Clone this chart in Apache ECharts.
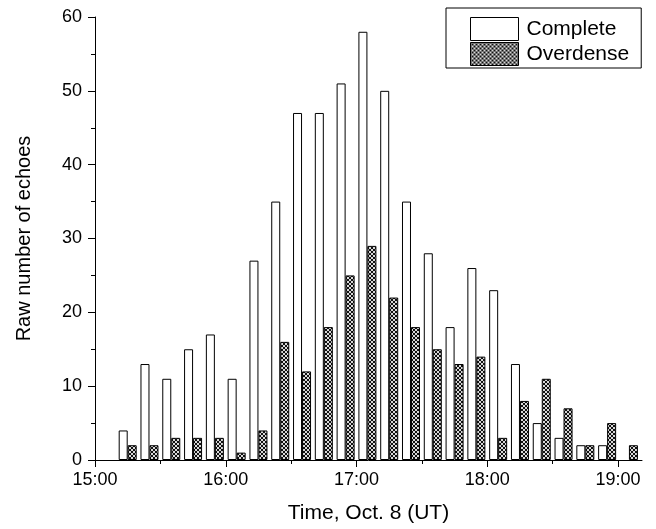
<!DOCTYPE html>
<html>
<head>
<meta charset="utf-8">
<script src="https://cdn.jsdelivr.net/npm/echarts@6/dist/echarts.min.js"></script>
<style>
  html, body { margin: 0; padding: 0; background: #fff; }
  #main { width: 656px; height: 529px; }
</style>
</head>
<body>
<div id="main"></div>
<script>
// 10-minute bins, centre time of each bin
const binTimes = ['15:15', '15:25', '15:35', '15:45', '15:55', '16:05', '16:15', '16:25',
  '16:35', '16:45', '16:55', '17:05', '17:15', '17:25', '17:35', '17:45', '17:55', '18:05',
  '18:15', '18:25', '18:35', '18:45', '18:55', '19:05'];
const completeVals = [4, 13, 11, 15, 17, 11, 27, 35, 47, 47, 51, 58, 50, 35, 28, 18, 26, 23,
  13, 5, 3, 2, 2, null];
const overdenseVals = [2, 2, 3, 3, 3, 1, 4, 16, 12, 18, 25, 29, 22, 18, 15, 13, 14, 3,
  8, 11, 7, 2, 5, 2];
const hourTicks = ['15:00', '16:00', '17:00', '18:00', '19:00'];
const halfHourTicks = ['15:00', '15:30', '16:00', '16:30', '17:00', '17:30', '18:00', '18:30', '19:00'];
const yMax = 60;
const tMaxMinutes = 251;

// minutes since 15:00
function toMin(s) {
  const p = s.split(':');
  return (parseInt(p[0]) - 15) * 60 + parseInt(p[1]);
}
function fmt(m) {
  const h = 15 + Math.floor(m / 60);
  const mm = m % 60;
  return h + ':' + (mm < 10 ? '0' : '') + mm;
}

// cross-hatch fill
function hatch() {
  const c = document.createElement('canvas');
  c.width = 4; c.height = 4;
  const ctx = c.getContext('2d');
  ctx.fillStyle = '#d8d8d8';
  ctx.fillRect(0, 0, 4, 4);
  ctx.fillStyle = '#111111';
  [[0, 0], [1, 1], [2, 2], [3, 3], [3, 0], [2, 1], [1, 2], [0, 3]].forEach(function (p) {
    ctx.fillRect(p[0], p[1], 1, 1);
  });
  return c;
}

const font = 'Liberation Sans, Arial, sans-serif';
const chart = echarts.init(document.getElementById('main'), null, { renderer: 'canvas' });

const completeData = binTimes.map((t, i) => [toMin(t), completeVals[i]]);
const overdenseData = binTimes.map((t, i) => [toMin(t), overdenseVals[i]]);

const option = {
  backgroundColor: '#fff',
  animation: false,
  grid: { left: 95, right: 14, top: 17, bottom: 69 },
  legend: {
    left: 446,
    top: 8,
    orient: 'vertical',
    padding: [9, 12, 2, 24],
    itemWidth: 48,
    itemHeight: 23,
    itemGap: 1,
    borderColor: '#000',
    borderWidth: 1,
    icon: 'rect',
    itemStyle: { borderWidth: 1, borderColor: '#000' },
    textStyle: { fontFamily: font, fontSize: 21, color: '#000', lineHeight: 24, padding: [0, 0, 0, 3] },
    data: ['Complete', 'Overdense']
  },
  xAxis: [
    {
      type: 'value',
      min: 0,
      max: tMaxMinutes,
      interval: 30,
      splitLine: { show: false },
      axisLine: { lineStyle: { color: '#000', width: 1 } },
      axisTick: {
        customValues: halfHourTicks.map(toMin),
        length: 4,
        lineStyle: { color: '#000' }
      },
      axisLabel: {
        customValues: hourTicks.map(toMin),
        formatter: (v) => fmt(v),
        fontFamily: font,
        fontSize: 18,
        color: '#000',
        margin: 11
      },
      name: 'Time, Oct. 8 (UT)',
      nameLocation: 'middle',
      nameGap: 43,
      nameTextStyle: { fontFamily: font, fontSize: 21, color: '#000' }
    },
    {
      type: 'value',
      min: 0,
      max: tMaxMinutes,
      interval: 60,
      position: 'bottom',
      splitLine: { show: false },
      axisLine: { show: false },
      axisTick: {
        customValues: hourTicks.map(toMin),
        length: 7,
        lineStyle: { color: '#000' }
      },
      axisLabel: { show: false }
    }
  ],
  yAxis: {
    type: 'value',
    min: 0,
    max: yMax,
    interval: 10,
    splitLine: { show: false },
    axisLine: { show: true, lineStyle: { color: '#000', width: 1 } },
    axisTick: { show: true, length: 7, lineStyle: { color: '#000' } },
    minorTick: { show: true, splitNumber: 2, length: 4, lineStyle: { color: '#000' } },
    axisLabel: { fontFamily: font, fontSize: 18, color: '#000', margin: 13 },
    name: 'Raw number of echoes',
    nameLocation: 'middle',
    nameGap: 61,
    nameTextStyle: { fontFamily: font, fontSize: 20, color: '#000' }
  },
  series: [
    {
      name: 'Complete',
      type: 'bar',
      xAxisIndex: 0,
      barWidth: 9,
      barGap: '0%',
      itemStyle: { color: '#fff', borderColor: '#000', borderWidth: 1 },
      data: completeData
    },
    {
      name: 'Overdense',
      type: 'bar',
      xAxisIndex: 0,
      barWidth: 9,
      barGap: '0%',
      itemStyle: { color: { image: hatch(), repeat: 'repeat' }, borderColor: '#000', borderWidth: 1 },
      data: overdenseData
    }
  ]
};

chart.setOption(option);
</script>
</body>
</html>
